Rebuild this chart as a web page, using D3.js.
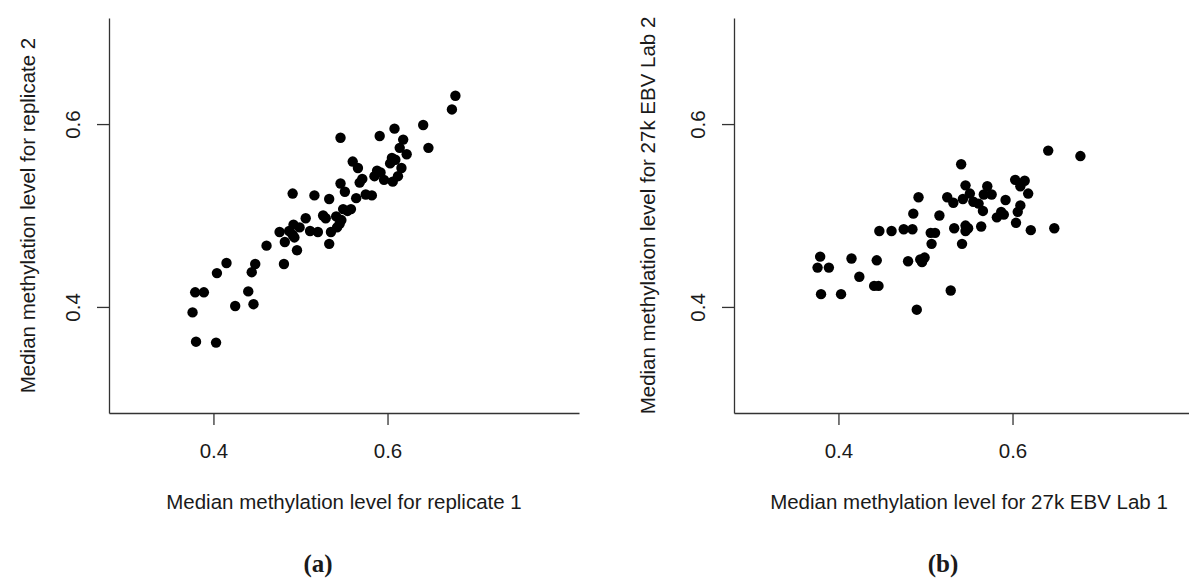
<!DOCTYPE html>
<html>
<head>
<meta charset="utf-8">
<title>Median methylation scatter</title>
<script src="https://d3js.org/d3.v7.min.js"></script>
<style>
	body{margin:0;background:#fff}
	text{font-family:'Liberation Sans',Arial,sans-serif;fill:#1a1a1a}
	.cap{font-family:'Liberation Serif','Times New Roman',serif;font-weight:bold}
</style>
</head>
<body>
<div class="chart"></div>
<script>
// (a) replicate 1 vs replicate 2
const repX = [0.678,0.674,0.641,0.647,0.608,0.591,0.546,0.618,0.614,0.622,0.605,0.609,0.603,0.616,0.560,0.566,0.588,0.592,0.585,0.612,
	0.606,0.596,0.571,0.568,0.546,0.551,0.564,0.575,0.582,0.533,0.491,0.516,0.549,0.558,0.554,0.541,0.547,0.545,0.542,0.535,
	0.533,0.506,0.526,0.529,0.492,0.499,0.487,0.491,0.493,0.482,0.476,0.511,0.520,0.496,0.461,
	0.481,0.415,0.404,0.448,0.444,0.379,0.389,0.440,0.376,0.425,0.446,0.380,0.403];
const repY = [0.631,0.616,0.599,0.574,0.595,0.587,0.585,0.583,0.574,0.567,0.563,0.561,0.557,0.552,0.559,0.552,0.549,0.547,0.543,0.543,
	0.537,0.539,0.540,0.536,0.535,0.526,0.519,0.523,0.522,0.518,0.524,0.522,0.507,0.507,0.505,0.499,0.495,0.491,0.487,0.482,
	0.469,0.497,0.500,0.497,0.490,0.487,0.483,0.479,0.476,0.471,0.482,0.483,0.482,0.462,0.467,
	0.447,0.448,0.437,0.447,0.438,0.416,0.416,0.417,0.394,0.401,0.403,0.362,0.361];

// (b) 27k EBV lab 1 vs lab 2
const labX = [0.492,0.486,0.516,0.447,0.461,0.475,0.485,0.506,0.511,0.507,0.379,0.376,0.389,0.415,0.444,0.480,0.494,0.499,0.496,0.424,
	0.441,0.446,0.380,0.403,0.490,0.641,0.678,0.541,0.603,0.614,0.609,0.618,0.546,0.571,0.551,0.567,0.576,0.525,0.532,0.543,
	0.555,0.561,0.592,0.566,0.609,0.606,0.587,0.590,0.582,0.604,0.621,0.648,0.533,0.546,0.549,0.546,0.564,0.542,0.529];
const labY = [0.520,0.502,0.500,0.483,0.483,0.485,0.485,0.481,0.481,0.469,0.455,0.443,0.443,0.453,0.451,0.450,0.452,0.454,0.449,0.433,
	0.423,0.423,0.414,0.414,0.397,0.571,0.565,0.556,0.539,0.538,0.532,0.524,0.533,0.532,0.524,0.523,0.523,0.520,0.514,0.518,
	0.515,0.513,0.517,0.505,0.511,0.504,0.504,0.501,0.498,0.492,0.484,0.486,0.486,0.489,0.486,0.483,0.488,0.469,0.418];

const tickVals = [0.4, 0.6];
const xTitles = ['Median methylation level for replicate 1', 'Median methylation level for 27k EBV Lab 1'];
const yTitles = ['Median methylation level for replicate 2', 'Median methylation level for 27k EBV Lab 2'];
const captions = ['(a)', '(b)'];

const svg = d3.select('.chart').append('svg').attr('width',1189).attr('height',578);

const plotTop = 18, plotBottom = 413, plotW = 470;
const panels = [
	{xs: repX, ys: repY, left: 109, yLab: 35, cap: 318},
	{xs: labX, ys: labY, left: 734, yLab: 655, cap: 943}
];

panels.forEach((p, i) => {
	const x = d3.scaleLinear().domain([0.28, 0.82]).range([p.left, p.left + plotW]);
	const y = d3.scaleLinear().domain([0.284, 0.716]).range([plotBottom, plotTop]);
	const g = svg.append('g');

	const xAxis = g.append('g').attr('transform', `translate(0,${plotBottom})`)
		.call(d3.axisBottom(x).tickValues(tickVals).tickSize(12).tickSizeOuter(0).tickFormat(d3.format('.1f')));
	xAxis.selectAll('text').attr('y', 45).attr('dy', 0);

	const yAxis = g.append('g').attr('transform', `translate(${p.left},0)`)
		.call(d3.axisLeft(y).tickValues(tickVals).tickSize(12).tickSizeOuter(0).tickFormat(d3.format('.1f')));
	yAxis.selectAll('text').attr('x', 0).attr('dy', 0).attr('text-anchor', 'middle')
		.attr('transform', 'translate(-29,0) rotate(-90)');

	g.selectAll('.domain, .tick line').attr('stroke', '#333').attr('stroke-width', 1.3);
	g.selectAll('.tick text').attr('font-size', 20.5).attr('fill', '#1a1a1a');
	xAxis.attr('font-family', null); yAxis.attr('font-family', null);

	g.selectAll('circle').data(p.xs).join('circle')
		.attr('cx', d => x(d))
		.attr('cy', (d, j) => y(p.ys[j]))
		.attr('r', 5.2)
		.attr('fill', '#000');

	g.append('text').attr('x', p.left + plotW / 2).attr('y', 508.5)
		.attr('text-anchor', 'middle').attr('font-size', 20.5).text(xTitles[i]);
	g.append('text').attr('transform', `translate(${p.yLab},${(plotTop + plotBottom) / 2}) rotate(-90)`)
		.attr('text-anchor', 'middle').attr('font-size', 20.5).text(yTitles[i]);
	g.append('text').attr('class', 'cap').attr('x', p.cap).attr('y', 572)
		.attr('text-anchor', 'middle').attr('font-size', 25).text(captions[i]);
});
</script>
</body>
</html>
